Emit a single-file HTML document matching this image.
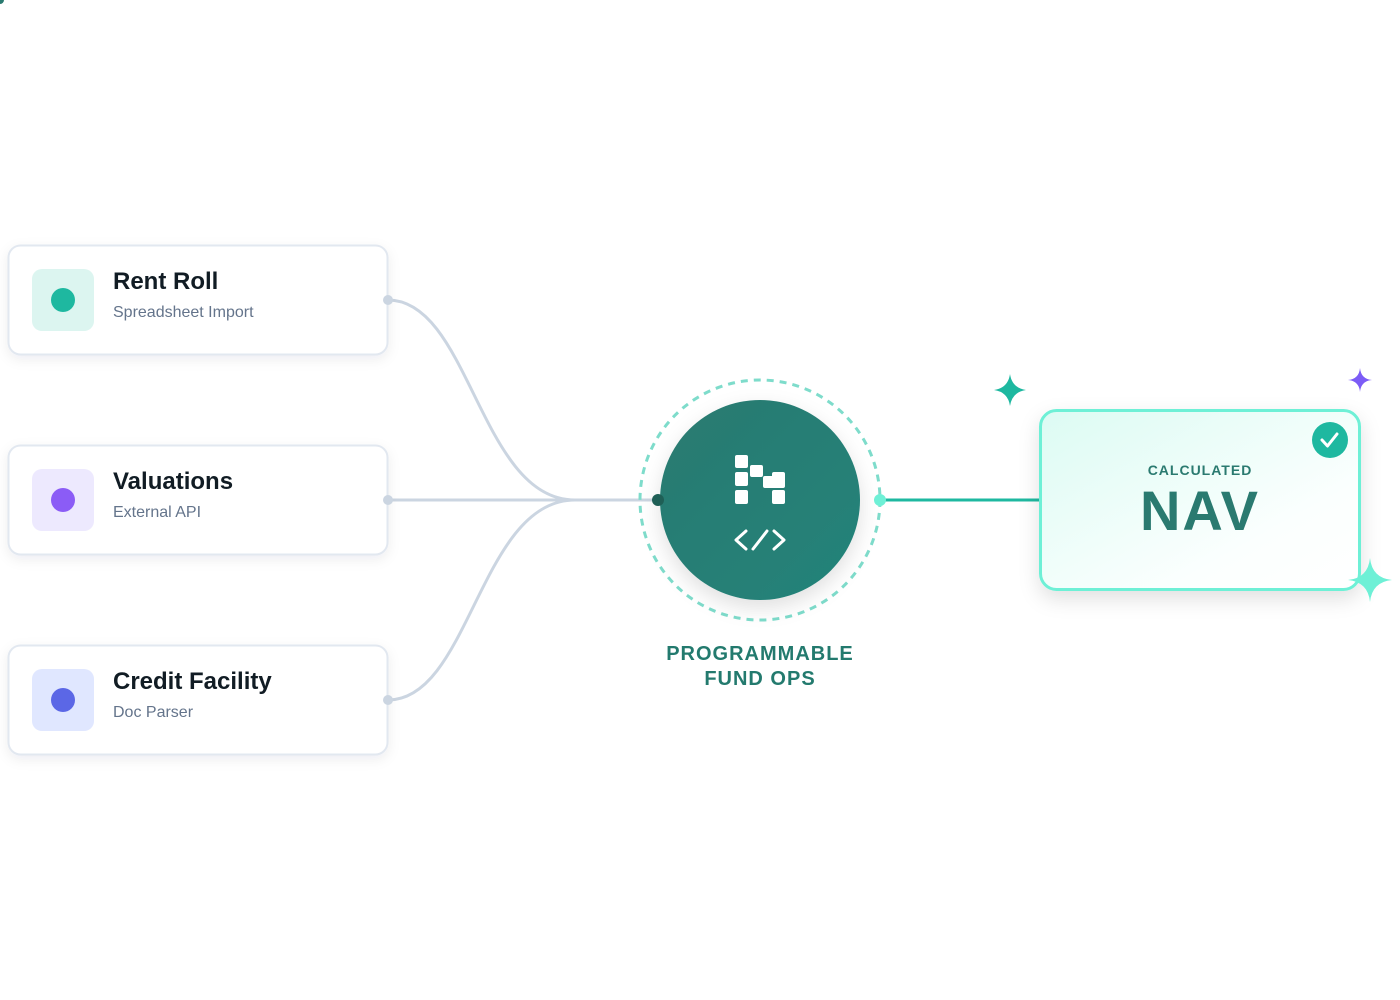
<!DOCTYPE html>
<html><head><meta charset="utf-8"><style>
html,body{margin:0;padding:0;background:#fff;width:1400px;height:1000px;overflow:hidden}
svg{display:block}
text{font-family:"Liberation Sans","DejaVu Sans",sans-serif}
</style></head><body>
<svg width="1400" height="1000" viewBox="0 0 1400 1000" xmlns="http://www.w3.org/2000/svg">
<defs>
<filter id="sh" x="-20%" y="-30%" width="140%" height="160%"><feDropShadow dx="0" dy="4" stdDeviation="6" flood-color="#1e293b" flood-opacity="0.07"/></filter>
<filter id="sh2" x="-30%" y="-30%" width="160%" height="160%"><feDropShadow dx="0" dy="8" stdDeviation="10" flood-color="#000" flood-opacity="0.12"/></filter>
<linearGradient id="nav" x1="0" y1="0" x2="1" y2="1"><stop offset="0" stop-color="#dcfbf3"/><stop offset="0.7" stop-color="#fbfffe"/><stop offset="1" stop-color="#ffffff"/></linearGradient>
<linearGradient id="cg" x1="0" y1="0" x2="1" y2="1"><stop offset="0" stop-color="#2a7a70"/><stop offset="1" stop-color="#23837a"/></linearGradient>
</defs>
<circle cx="0" cy="0" r="4" fill="#2a7a70"/>
<g fill="none" stroke="#cbd5e1" stroke-width="3">
<path d="M388,300 C470,300 480,500 575,500"/>
<path d="M388,700 C470,700 480,500 575,500"/>
<path d="M388,500 L658,500"/>
</g>
<line x1="880" y1="500" x2="1040" y2="500" stroke="#1eb8a0" stroke-width="3"/>
<g filter="url(#sh)">
<rect x="8.5" y="245.5" width="379" height="109" rx="12" fill="#fff" stroke="#e2e8f0" stroke-width="2"/>
<rect x="8.5" y="445.5" width="379" height="109" rx="12" fill="#fff" stroke="#e2e8f0" stroke-width="2"/>
<rect x="8.5" y="645.5" width="379" height="109" rx="12" fill="#fff" stroke="#e2e8f0" stroke-width="2"/>
</g>
<g fill="#cbd5e1"><circle cx="388" cy="300" r="5"/><circle cx="388" cy="500" r="5"/><circle cx="388" cy="700" r="5"/></g>
<rect x="32" y="269" width="62" height="62" rx="10" fill="#dcf5f0"/><circle cx="63" cy="300" r="12" fill="#1eb8a0"/>
<rect x="32" y="469" width="62" height="62" rx="10" fill="#ede9fe"/><circle cx="63" cy="500" r="12" fill="#8b5cf6"/>
<rect x="32" y="669" width="62" height="62" rx="10" fill="#e0e7ff"/><circle cx="63" cy="700" r="12" fill="#5b67e6"/>
<g font-weight="bold" font-size="24" fill="#111c24">
<text x="113" y="289">Rent Roll</text><text x="113" y="489">Valuations</text><text x="113" y="689">Credit Facility</text></g>
<g font-size="16" fill="#64748b">
<text x="113" y="317">Spreadsheet Import</text><text x="113" y="517">External API</text><text x="113" y="717">Doc Parser</text></g>
<circle cx="760" cy="500" r="120" fill="none" stroke="#7edccb" stroke-width="3" stroke-dasharray="7 6"/>
<circle cx="760" cy="500" r="100" fill="url(#cg)" filter="url(#sh2)"/>
<g fill="#fff">
<rect x="735" y="455" width="13" height="13" rx="2"/><rect x="735" y="472" width="13" height="14" rx="2"/><rect x="735" y="490" width="13" height="14" rx="2"/>
<rect x="750" y="465" width="13" height="12" rx="2"/><rect x="763" y="476" width="13" height="12" rx="2"/><rect x="772" y="472" width="13" height="16" rx="2"/><rect x="772" y="490" width="13" height="14" rx="2"/>
</g>
<g fill="none" stroke="#fff" stroke-width="3" stroke-linecap="round" stroke-linejoin="round">
<path d="M746,531 L736,540 L746,549"/><path d="M774,531 L784,540 L774,549"/><path d="M753,549 L767,531"/></g>
<circle cx="658" cy="500" r="6" fill="#1f5f56"/>
<circle cx="880" cy="500" r="6" fill="#6ef0d6"/>
<g font-weight="bold" font-size="20" fill="#237a6e" text-anchor="middle" letter-spacing="1">
<text x="760" y="660">PROGRAMMABLE</text><text x="760" y="685">FUND OPS</text></g>
<rect x="1040.5" y="410.5" width="319" height="179" rx="16" fill="url(#nav)" stroke="#6ef0d6" stroke-width="3" filter="url(#sh2)"/>
<circle cx="1330" cy="440" r="18" fill="#1eb8a0"/>
<path d="M1322,440 L1327.5,446 L1337,434" fill="none" stroke="#fff" stroke-width="3" stroke-linecap="round" stroke-linejoin="round"/>
<text x="1200" y="475" text-anchor="middle" font-size="14" font-weight="bold" fill="#2a7a70" letter-spacing="1">CALCULATED</text>
<text x="1200" y="530" text-anchor="middle" font-size="56" font-weight="bold" fill="#2a7a70" letter-spacing="2">NAV</text>
<path d="M1010,374 Q1012,388 1026,390 Q1012,392 1010,406 Q1008,392 994,390 Q1008,388 1010,374Z" fill="#1eb8a0"/>
<path d="M1360,368 Q1361,379 1372,380 Q1361,381 1360,392 Q1359,381 1348,380 Q1359,379 1360,368Z" fill="#7c5cf6"/>
<path d="M1370,558 Q1372,578 1392,580 Q1372,582 1370,602 Q1368,582 1348,580 Q1368,578 1370,558Z" fill="#6ef0d6"/>
</svg>
</body></html>
